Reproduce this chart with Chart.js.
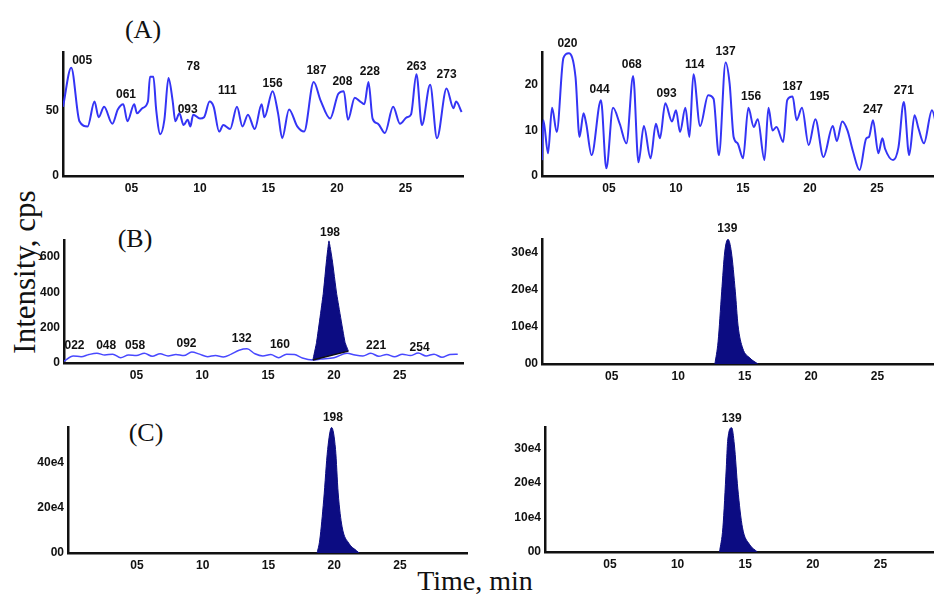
<!DOCTYPE html>
<html>
<head>
<meta charset="utf-8">
<script src="https://cdn.jsdelivr.net/npm/chart.js@4.4.1/dist/chart.umd.min.js"></script>
<style>
  html, body { margin: 0; padding: 0; background: #fff; }
  body { width: 934px; height: 597px; position: relative; overflow: hidden; }
  canvas { position: absolute; }
  .serif { position: absolute; transform: translate(-50%, -50%); font-family: "Liberation Serif", "DejaVu Serif", serif; color: #111; white-space: nowrap; line-height: 1; }
</style>
</head>
<body>
<div class="serif" style="left:143px;top:30px;font-size:26px">(A)</div>
<div class="serif" style="left:135px;top:239px;font-size:26px">(B)</div>
<div class="serif" style="left:146px;top:433px;font-size:26px">(C)</div>
<div class="serif" style="left:24px;top:272px;font-size:31px;transform:translate(-50%,-50%) rotate(-90deg)">Intensity, cps</div>
<div class="serif" style="left:475px;top:581px;font-size:28px">Time, min</div>
<script>
// shared time axis
const timeTicks = [0.5, 1.0, 1.5, 2.0, 2.5];
const timeTickLabels = ["05", "10", "15", "20", "25"];

// (A) left: blank, noise only
const aLeftTime = [0, 0.06, 0.12, 0.18, 0.23, 0.26, 0.30, 0.36, 0.40, 0.44, 0.47, 0.52, 0.54, 0.58, 0.62, 0.635, 0.66, 0.68, 0.71, 0.74, 0.77, 0.80, 0.82, 0.85, 0.88, 0.91, 0.93, 0.95, 1.00, 1.03, 1.07, 1.10, 1.14, 1.17, 1.22, 1.27, 1.31, 1.35, 1.40, 1.45, 1.47, 1.53, 1.57, 1.60, 1.65, 1.71, 1.76, 1.83, 1.88, 1.95, 2.01, 2.05, 2.08, 2.13, 2.17, 2.20, 2.23, 2.26, 2.30, 2.35, 2.41, 2.46, 2.51, 2.54, 2.58, 2.62, 2.68, 2.73, 2.80, 2.85, 2.87, 2.91];
const aLeftIntensity = [53, 83, 42, 38, 57, 45, 53, 40, 51, 55, 42, 55, 48, 52, 57, 76, 76, 51, 32, 43, 75, 58, 42, 48, 39, 43, 38, 47, 44, 45, 57, 53, 34, 39, 36, 53, 38, 47, 36, 55, 45, 65, 48, 29, 51, 38, 34, 72, 58, 44, 63, 65, 43, 60, 57, 55, 72, 44, 40, 33, 53, 40, 45, 47, 78, 39, 70, 29, 67, 52, 57, 49];
const aLeftTicks = [0, 50];
const aLeftTickLabels = ["0", "50"];
const aLeftNoteText = ["005", "061", "78", "093", "111", "156", "187", "208", "228", "263", "273"];
const aLeftNoteTime = [0.14, 0.46, 0.95, 0.91, 1.20, 1.53, 1.85, 2.04, 2.24, 2.58, 2.80];
const aLeftNoteAt = [88, 62, 84, 51, 65, 71, 81, 72, 80, 84, 78];

// (A) right
const aRightTime = [0, 0.01, 0.045, 0.075, 0.11, 0.16, 0.20, 0.25, 0.28, 0.31, 0.33, 0.37, 0.44, 0.48, 0.53, 0.58, 0.63, 0.68, 0.72, 0.76, 0.81, 0.85, 0.88, 0.92, 0.97, 1.00, 1.03, 1.07, 1.10, 1.13, 1.18, 1.24, 1.28, 1.32, 1.37, 1.40, 1.43, 1.46, 1.50, 1.54, 1.58, 1.61, 1.66, 1.69, 1.72, 1.75, 1.80, 1.83, 1.87, 1.90, 1.94, 1.99, 2.04, 2.10, 2.17, 2.20, 2.24, 2.28, 2.32, 2.37, 2.42, 2.44, 2.47, 2.51, 2.54, 2.56, 2.62, 2.66, 2.70, 2.74, 2.78, 2.81, 2.85, 2.91, 2.95];
const aRightIntensity = [3.5, 12.3, 5, 15, 9.7, 26, 27, 21.8, 8.6, 13.8, 11.5, 4.6, 16.7, 1.7, 15, 11.5, 7.2, 22, 3, 11, 3.9, 11.5, 8.3, 16, 12, 14.5, 9.7, 15, 8.6, 22.4, 11, 17.8, 17, 4.6, 25, 20.4, 8.6, 7.2, 3.9, 15, 10.8, 12.5, 3.5, 15, 10, 10.8, 7.5, 16.7, 17.5, 12.3, 15, 6.8, 12.5, 4.2, 11, 7.7, 12, 10, 5.5, 1.3, 8.3, 8.6, 12.3, 5, 8.3, 6, 3.5, 6.3, 16.3, 4.6, 13.4, 10.4, 7.2, 14.5, 10];
const aRightTicks = [0, 10, 20];
const aRightTickLabels = ["0", "10", "20"];
const aRightNoteText = ["020", "044", "068", "093", "114", "137", "156", "187", "195", "247", "271"];
const aRightNoteTime = [0.19, 0.43, 0.67, 0.93, 1.14, 1.37, 1.56, 1.87, 2.07, 2.47, 2.70];
const aRightNoteAt = [29.2, 18.9, 24.4, 18.2, 24.6, 27.3, 17.4, 19.6, 17.4, 14.5, 18.7];

// (B) left: noise trace plus integrated peak
const bLeftTime = [-0.05, 0.02, 0.08, 0.14, 0.20, 0.26, 0.32, 0.38, 0.44, 0.50, 0.56, 0.62, 0.68, 0.74, 0.80, 0.86, 0.92, 0.98, 1.04, 1.10, 1.16, 1.22, 1.28, 1.34, 1.40, 1.46, 1.52, 1.58, 1.64, 1.70, 1.76, 1.84, 1.90, 2.00, 2.10, 2.16, 2.22, 2.28, 2.34, 2.40, 2.46, 2.52, 2.58, 2.64, 2.70, 2.76, 2.82, 2.88, 2.94];
const bLeftIntensity = [10, 40, 35, 48, 55, 45, 50, 30, 45, 42, 55, 38, 52, 40, 48, 42, 62, 50, 36, 42, 34, 50, 72, 80, 52, 40, 48, 30, 50, 48, 28, 17, 22, 30, 55, 45, 40, 55, 38, 48, 35, 50, 42, 56, 40, 50, 32, 48, 50];
const bLeftPeakTime = [1.84, 1.868, 1.919, 1.944, 1.962, 1.987, 2.02, 2.084, 2.11];
const bLeftPeakIntensity = [17, 117, 394, 583, 690, 583, 394, 117, 67];
const bLeftBaseTime = [1.84, 2.11];
const bLeftBaseIntensity = [17, 67];
const bLeftTicks = [0, 200, 400, 600];
const bLeftTickLabels = ["0", "200", "400", "600"];
const bLeftNoteText = ["022", "048", "058", "092", "132", "160", "198", "221", "254"];
const bLeftNoteTime = [0.03, 0.27, 0.49, 0.88, 1.30, 1.59, 1.97, 2.32, 2.65];
const bLeftNoteAt = [100, 100, 100, 111, 139, 105, 739, 100, 89];

// (B) right
const bRightTime = [1.276, 1.30, 1.327, 1.35, 1.375, 1.40, 1.43, 1.45, 1.485, 1.54, 1.60];
const bRightIntensity = [0, 6000, 19500, 30300, 33700, 30300, 19500, 10500, 4300, 1600, 0];
const bRightTicks = [0, 10000, 20000, 30000];
const bRightTickLabels = ["00", "10e4", "20e4", "30e4"];

// (C) left
const cLeftTime = [1.87, 1.89, 1.92, 1.95, 1.98, 2.01, 2.03, 2.06, 2.11, 2.17, 2.19];
const cLeftIntensity = [0, 5800, 23600, 46000, 55800, 46000, 26700, 11600, 4400, 1000, 0];
const cLeftTicks = [0, 20000, 40000];
const cLeftTickLabels = ["00", "20e4", "40e4"];

// (C) right
const cRightTime = [1.31, 1.335, 1.36, 1.37, 1.40, 1.42, 1.445, 1.48, 1.53, 1.59];
const cRightIntensity = [0, 7000, 24300, 32000, 36000, 31000, 18500, 7000, 2300, 0];
const cRightTicks = [0, 10000, 20000, 30000];
const cRightTickLabels = ["00", "10e4", "20e4", "30e4"];

const BLUE = "#3434f5";
const NAVY = "#0c0c82";
const TICK_FONT = { family: "'Liberation Sans', Arial, sans-serif", size: 12, weight: "bold" };

const pts = (t, v) => t.map((x, i) => ({ x, y: v[i] }));

function trace(t, v) {
  return { data: pts(t, v), borderColor: BLUE, borderWidth: 2, pointRadius: 0, cubicInterpolationMode: "monotone", fill: false };
}
function peak(t, v) {
  return { data: pts(t, v), borderColor: NAVY, backgroundColor: NAVY, borderWidth: 1, pointRadius: 0, cubicInterpolationMode: "monotone", fill: "origin" };
}

function notes(text, time, at) {
  return {
    id: "peakNotes",
    afterDatasetsDraw(chart) {
      const { ctx, scales: { x, y } } = chart;
      ctx.save();
      ctx.font = "bold 12px 'Liberation Sans', Arial, sans-serif";
      ctx.fillStyle = "#111";
      ctx.textAlign = "center";
      ctx.textBaseline = "middle";
      text.forEach((s, i) => ctx.fillText(s, x.getPixelForValue(time[i]), y.getPixelForValue(at[i])));
      ctx.restore();
    },
  };
}

function panel(p) {
  const yW = 48, xH = 24, padTop = 30, padRight = 4;
  const c = document.createElement("canvas");
  c.width = yW + (p.right - p.left) + padRight;
  c.height = padTop + (p.bottom - p.top) + xH;
  c.style.left = (p.left - yW) + "px";
  c.style.top = (p.top - padTop) + "px";
  document.body.appendChild(c);
  new Chart(c, {
    type: "line",
    data: { datasets: p.datasets },
    plugins: p.plugins || [],
    options: {
      responsive: false,
      animation: false,
      events: [],
      layout: { padding: { top: padTop, right: padRight, left: 0, bottom: 0 } },
      plugins: { legend: { display: false }, tooltip: { enabled: false } },
      scales: {
        x: {
          type: "linear", min: p.xMin, max: p.xMax,
          grid: { display: false, drawTicks: false },
          border: { display: true, color: "#111", width: 2.5 },
          afterBuildTicks: (s) => { s.ticks = timeTicks.map((v) => ({ value: v })); },
          afterFit: (s) => { s.height = xH; },
          ticks: { autoSkip: false, maxRotation: 0, padding: 5, color: "#111", font: TICK_FONT,
            callback: (v) => timeTickLabels[timeTicks.indexOf(v)] },
        },
        y: {
          min: 0, max: p.yMax,
          grid: { display: false, drawTicks: false },
          border: { display: true, color: "#111", width: 2.5 },
          afterBuildTicks: (s) => { s.ticks = p.yTicks.map((v) => ({ value: v })); },
          afterFit: (s) => { s.width = yW; },
          ticks: { autoSkip: false, padding: 4, color: "#111", font: TICK_FONT,
            callback: (v) => p.yLabels[p.yTicks.indexOf(v)] },
        },
      },
    },
  });
}

panel({ left: 63, right: 463, top: 52, bottom: 176, xMin: 0, xMax: 2.92, yMax: 95,
  yTicks: aLeftTicks, yLabels: aLeftTickLabels,
  datasets: [trace(aLeftTime, aLeftIntensity)],
  plugins: [notes(aLeftNoteText, aLeftNoteTime, aLeftNoteAt)] });

panel({ left: 542, right: 940, top: 52, bottom: 176, xMin: 0, xMax: 2.97, yMax: 27.3,
  yTicks: aRightTicks, yLabels: aRightTickLabels,
  datasets: [trace(aRightTime, aRightIntensity)],
  plugins: [notes(aRightNoteText, aRightNoteTime, aRightNoteAt)] });

// blank-plasma trace: thin baseline, black integration line, filled peak
const bNoise = trace(bLeftTime, bLeftIntensity);
bNoise.borderWidth = 1.5; bNoise.borderColor = "#4848ff"; bNoise.order = 3;
const bBase = { data: pts(bLeftBaseTime, bLeftBaseIntensity), borderColor: "#111", borderWidth: 1.5, pointRadius: 0, fill: false, order: 1 };
const bPeak = peak(bLeftPeakTime, bLeftPeakIntensity);
bPeak.fill = 1; bPeak.order = 2;
bPeak.cubicInterpolationMode = "default"; bPeak.tension = 0.1;
panel({ left: 64, right: 463, top: 240, bottom: 363, xMin: -0.05, xMax: 2.98, yMax: 695,
  yTicks: bLeftTicks, yLabels: bLeftTickLabels,
  datasets: [bNoise, bBase, bPeak],
  plugins: [notes(bLeftNoteText, bLeftNoteTime, bLeftNoteAt)] });

panel({ left: 542, right: 940, top: 239, bottom: 364, xMin: -0.025, xMax: 2.97, yMax: 33800,
  yTicks: bRightTicks, yLabels: bRightTickLabels,
  datasets: [peak(bRightTime, bRightIntensity)],
  plugins: [notes(["139"], [1.37], [36500])] });

panel({ left: 68, right: 467, top: 427, bottom: 553, xMin: -0.025, xMax: 3.01, yMax: 56000,
  yTicks: cLeftTicks, yLabels: cLeftTickLabels,
  datasets: [peak(cLeftTime, cLeftIntensity)],
  plugins: [notes(["198"], [1.99], [60000])] });

panel({ left: 545, right: 940, top: 427, bottom: 552, xMin: 0.02, xMax: 2.94, yMax: 36200,
  yTicks: cRightTicks, yLabels: cRightTickLabels,
  datasets: [peak(cRightTime, cRightIntensity)],
  plugins: [notes(["139"], [1.40], [38600])] });
</script>
</body>
</html>
